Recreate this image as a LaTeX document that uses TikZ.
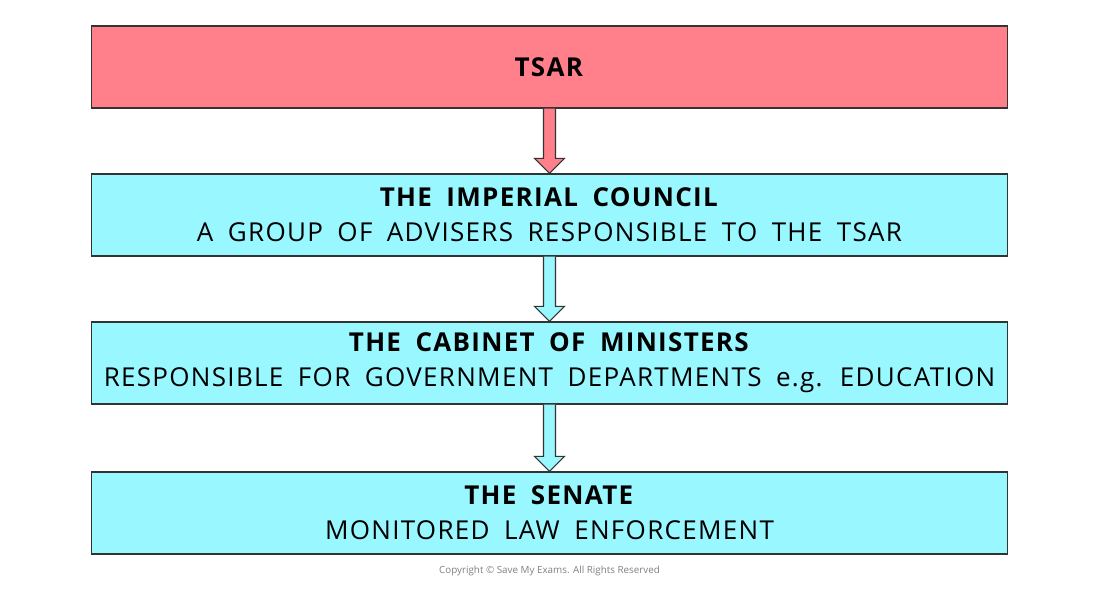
\documentclass[tikz,border=0pt]{standalone}
\usepackage{fontspec}
\setmainfont{Open Sans}[LetterSpace=5.0,WordSpace=1.8]
\newfontfamily\plainfont{Open Sans}
\usetikzlibrary{calc}
\definecolor{tsarred}{HTML}{FF7F8A}
\definecolor{boxcyan}{HTML}{99F8FF}
\begin{document}
\begin{tikzpicture}[x=0.025cm,y=-0.025cm,
    level/.style={draw=black!80,line width=0.8pt,minimum width=22.875cm,
      minimum height=2.05cm,inner sep=0pt,align=center,
      font=\fontsize{18.5}{25}\selectfont},
    arr/.style={draw=black!80,line width=0.8pt,line join=miter}]
    \useasboundingbox (0,0) rectangle (1100,588);

    % Levels of government
    \node[level,fill=tsarred]  (tsar)    at (549.5,67)  {\textbf{TSAR}};
    \node[level,fill=boxcyan]  (council) at (549.5,215) {\textbf{THE IMPERIAL COUNCIL}\\A GROUP OF ADVISERS RESPONSIBLE TO THE TSAR};
    \node[level,fill=boxcyan]  (cabinet) at (549.5,363) {\textbf{THE CABINET OF MINISTERS}\\RESPONSIBLE FOR GOVERNMENT DEPARTMENTS e.g. EDUCATION};
    \node[level,fill=boxcyan]  (senate)  at (549.5,513) {\textbf{THE SENATE}\\MONITORED LAW ENFORCEMENT};

    % Block arrows between levels
    \foreach \a/\b/\c in {tsar/council/tsarred,council/cabinet/boxcyan,cabinet/senate/boxcyan}{
      \draw[arr,fill=\c] ($(\a.south)+(-6,0)$) -- ($(\b.north)+(-6,-15)$)
        -- ($(\b.north)+(-15,-15)$) -- (\b.north) -- ($(\b.north)+(15,-15)$)
        -- ($(\b.north)+(6,-15)$) -- ($(\a.south)+(6,0)$);
    }

    \node (copy) at (549.5,571) {\plainfont\fontsize{7}{8}\selectfont\color{black!50}Copyright © Save My Exams. All Rights Reserved};
\end{tikzpicture}
\end{document}
